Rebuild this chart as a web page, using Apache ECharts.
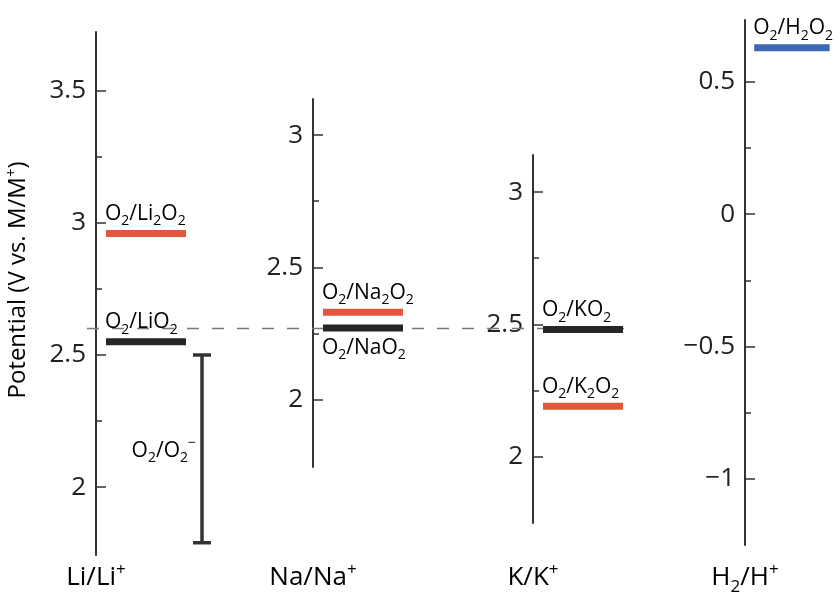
<!DOCTYPE html>
<html>
<head>
<meta charset="utf-8">
<script src="https://cdn.jsdelivr.net/npm/echarts@6/dist/echarts.min.js"></script>
<style>
  html, body { margin: 0; padding: 0; background: #fff; }
  #chart { width: 837px; height: 595px; }
</style>
</head>
<body>
<div id="chart"></div>
<script>
// Redox couples used as reference electrodes (rich-text markup: {s|..} subscript, {p|..} superscript)
const referenceCouples = ['Li/Li{p|+}', 'Na/Na{p|+}', 'K/K{p|+}', 'H{s|2}/H{p|+}'];

// Equilibrium potentials (V vs. M/M+) for each panel
const liLabels = ['O{s|2}/Li{s|2}O{s|2}', 'O{s|2}/LiO{s|2}'];
const liValues = [2.96, 2.55];
const liKinds  = ['peroxide', 'superoxide'];

const naLabels = ['O{s|2}/Na{s|2}O{s|2}', 'O{s|2}/NaO{s|2}'];
const naValues = [2.33, 2.27];
const naKinds  = ['peroxide', 'superoxide'];

const kLabels = ['O{s|2}/KO{s|2}', 'O{s|2}/K{s|2}O{s|2}'];
const kValues = [2.48, 2.19];
const kKinds  = ['superoxide', 'peroxide'];

const hLabels = ['O{s|2}/H{s|2}O{s|2}'];
const hValues = [0.63];
const hKinds  = ['hydrogen'];

// O2/O2- range in Li/Li+ scale
const superoxideRange = [1.79, 2.5];
const superoxideRangeLabel = 'O{s|2}/O{s|2}{m|−}';

// Dashed guide level (Li/Li+ scale)
const guideLevel = 2.60;

// Tick values per panel
const liMajor = [2, 2.5, 3, 3.5];
const liMinor = [2.25, 2.75, 3.25];
const naMajor = [2, 2.5, 3];
const naMinor = [2.25, 2.75];
const kMajor  = [2, 2.5, 3];
const kMinor  = [2.25, 2.75];
const hMajor  = [-1, -0.5, 0, 0.5];
const hMinor  = [-0.75, -0.25, 0.25];

const axisTitle = 'Potential (V vs. M/M{p|+})';

// ---- layout ----
const FONT = '"Open Sans", "Noto Sans", sans-serif';
const INK = '#222';
const PX_PER_V = 264.4;
const COLORS = { peroxide: '#e2573b', superoxide: '#262626', hydrogen: '#3d66b3' };

// axis x, pixel of a reference value, reference value, axis top, axis bottom
const panels = [
  { x: 96,  refY: 355.0, refV: 2.5, top: 32,  bottom: 555, major: liMajor, minor: liMinor,
    labels: liLabels, values: liValues, kinds: liKinds, below: [false, false] },
  { x: 313, refY: 267.3, refV: 2.5, top: 99,  bottom: 467, major: naMajor, minor: naMinor,
    labels: naLabels, values: naValues, kinds: naKinds, below: [false, true] },
  { x: 533, refY: 324.3, refV: 2.5, top: 155, bottom: 523, major: kMajor, minor: kMinor,
    labels: kLabels, values: kValues, kinds: kKinds, below: [false, false] },
  { x: 745, refY: 214.2, refV: 0,   top: 20,  bottom: 545, major: hMajor, minor: hMinor,
    labels: hLabels, values: hValues, kinds: hKinds, below: [false] }
];
panels.forEach(p => {
  p.min = p.refV - (p.bottom - p.refY) / PX_PER_V;
  p.max = p.refV + (p.refY - p.top) / PX_PER_V;
});

const labelRich = {
  n: { fontFamily: FONT, fontSize: 21, color: INK, lineHeight: 29 },
  s: { fontFamily: FONT, fontSize: 14, color: INK, lineHeight: 14, verticalAlign: 'bottom' },
  p: { fontFamily: FONT, fontSize: 14, color: INK, lineHeight: 14, verticalAlign: 'top' },
  m: { fontFamily: FONT, fontSize: 14, color: INK, lineHeight: 14, verticalAlign: 'top' }
};
// wrap plain runs so they pick up the base style
function richText(str) {
  return str.replace(/(^|\})([^{}]+)(?=\{|$)/g, (m, a, b) => a + '{n|' + b + '}');
}
const bigRich = {
  n: { fontFamily: FONT, fontSize: 26, color: INK, lineHeight: 36 },
  s: { fontFamily: FONT, fontSize: 17, color: INK, lineHeight: 17, verticalAlign: 'bottom' },
  p: { fontFamily: FONT, fontSize: 17, color: INK, lineHeight: 17, verticalAlign: 'top', padding: [2, 0, 0, 0] }
};

const grids = [], xAxes = [], yAxes = [], series = [];
const BAR_X0 = 10, BAR_X1 = 90, BAR_H = 7;

panels.forEach((p, i) => {
  grids.push({ left: p.x, top: p.top, width: 100, height: p.bottom - p.top });
  xAxes.push({ gridIndex: i, type: 'value', min: 0, max: 100, show: false });
  // major ticks + labels + axis line
  yAxes.push({
    gridIndex: i, type: 'value', min: p.min, max: p.max, position: 'left',
    axisLine: { show: true, lineStyle: { color: '#333', width: 2 } },
    axisTick: { show: true, inside: true, length: 10, lineStyle: { color: '#333', width: 1.5 }, customValues: p.major },
    axisLabel: { show: true, customValues: p.major, margin: 10, fontFamily: FONT, fontSize: 26, color: INK,
      formatter: v => (v < 0 ? '\u2212' + Math.abs(v) : String(v)) },
    splitLine: { show: false }
  });
  // minor ticks
  yAxes.push({
    gridIndex: i, type: 'value', min: p.min, max: p.max, position: 'left',
    axisLine: { show: false },
    axisTick: { show: true, inside: true, length: 6, lineStyle: { color: '#333', width: 1.5 }, customValues: p.minor },
    axisLabel: { show: false },
    splitLine: { show: false }
  });
  series.push({
    type: 'custom',
    xAxisIndex: i, yAxisIndex: 2 * i,
    z: 5,
    data: p.values.map((v, j) => ({ value: [v, j] })),
    renderItem: (params, api) => {
      const v = api.value(0), j = api.value(1);
      const a = api.coord([BAR_X0, v]), b = api.coord([p.x === 745 ? 92 : BAR_X1, v]);
      const below = p.below[j];
      return {
        type: 'group',
        children: [
          { type: 'rect', shape: { x: a[0], y: a[1] - BAR_H / 2, width: b[0] - a[0], height: BAR_H },
            style: { fill: COLORS[p.kinds[j]] } },
          { type: 'text', x: a[0] - 1, y: below ? a[1] + 5 : a[1] - 5,
            style: { text: richText(p.labels[j]), rich: labelRich, align: 'left',
              verticalAlign: below ? 'top' : 'bottom' } }
        ]
      };
    }
  });
});

// dashed guide grid, sharing the Li/Li+ scale
const li = panels[0];
grids.push({ left: 87, top: li.top, width: 548, height: li.bottom - li.top });
xAxes.push({ gridIndex: 4, type: 'value', min: 0, max: 1, show: false });
yAxes.push({ gridIndex: 4, type: 'value', min: li.min, max: li.max, show: false });
series.push({
  type: 'line', xAxisIndex: 4, yAxisIndex: yAxes.length - 1, z: 1,
  symbol: 'none', silent: true,
  lineStyle: { color: '#7a7a7a', width: 1.5, type: [12, 13] },
  data: [[0, guideLevel], [1, guideLevel]]
});

// O2/O2- range bar on the Li/Li+ axis
series.push({
  type: 'custom', xAxisIndex: 0, yAxisIndex: 0, z: 5,
  data: [{ value: superoxideRange }],
  renderItem: (params, api) => {
    const lo = api.coord([106, api.value(0)]), hi = api.coord([106, api.value(1)]);
    const x = lo[0], cap = 9;
    const st = { stroke: '#333', lineWidth: 3.5 };
    return {
      type: 'group',
      children: [
        { type: 'line', shape: { x1: x, y1: hi[1], x2: x, y2: lo[1] }, style: st },
        { type: 'line', shape: { x1: x - cap, y1: hi[1], x2: x + cap, y2: hi[1] }, style: st },
        { type: 'line', shape: { x1: x - cap, y1: lo[1], x2: x + cap, y2: lo[1] }, style: st },
        { type: 'text', x: x - 6, y: (lo[1] + hi[1]) / 2 + 2,
          style: { text: richText(superoxideRangeLabel), rich: labelRich, align: 'right', verticalAlign: 'middle' } }
      ]
    };
  }
});

const graphics = referenceCouples.map((c, i) => ({
  type: 'text', x: panels[i].x, y: 578,
  style: { text: richText(c), rich: bigRich, align: 'center', verticalAlign: 'middle' }
}));
graphics.push({
  type: 'text', x: 18, y: 280, rotation: Math.PI / 2,
  style: { text: richText(axisTitle), rich: {
    n: { fontFamily: FONT, fontSize: 24, color: INK, lineHeight: 32 },
    p: { fontFamily: FONT, fontSize: 15, color: INK, lineHeight: 15, verticalAlign: 'top', padding: [2, 0, 0, 0] }
  }, align: 'center', verticalAlign: 'middle' }
});

const chart = echarts.init(document.getElementById('chart'), null, { renderer: 'canvas' });
chart.setOption({
  backgroundColor: '#ffffff',
  animation: false,
  grid: grids,
  xAxis: xAxes,
  yAxis: yAxes,
  series: series,
  graphic: graphics
});
</script>
</body>
</html>
